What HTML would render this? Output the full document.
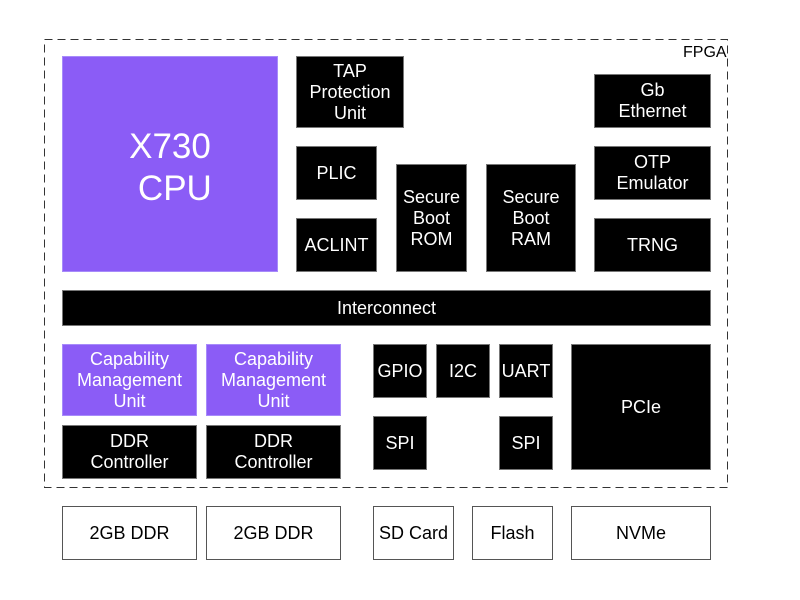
<!DOCTYPE html>
<html><head><style>
body{margin:0;width:800px;height:600px;background:#fff;position:relative;overflow:hidden;font-family:"Liberation Sans",sans-serif}
.b{position:absolute;background:#000;color:#fff;display:flex;align-items:center;justify-content:center;text-align:center;font-size:18px;line-height:21px;box-sizing:border-box;border:1px solid #777}
.p{background:#8b5cf6;border-color:#a78bfa}
.w{background:#fff;color:#000;border:1px solid #555}
</style></head><body>
<svg style="position:absolute;left:0;top:0" width="800" height="600"><rect x="44.5" y="39.5" width="683" height="448" fill="none" stroke="#333" stroke-width="1" stroke-dasharray="8,5"/></svg>
<div style="position:absolute;left:683px;top:44px;font-size:16px">FPGA</div>
<div class="b p" style="left:62px;top:56px;width:216px;height:216px;font-size:35px;line-height:42px;padding-top:8px">X730<br>&nbsp;CPU</div>
<div class="b" style="left:296px;top:56px;width:108px;height:72px">TAP<br>Protection<br>Unit</div>
<div class="b" style="left:296px;top:146px;width:81px;height:54px">PLIC</div>
<div class="b" style="left:296px;top:218px;width:81px;height:54px">ACLINT</div>
<div class="b" style="left:396px;top:164px;width:71px;height:108px">Secure<br>Boot<br>ROM</div>
<div class="b" style="left:486px;top:164px;width:90px;height:108px">Secure<br>Boot<br>RAM</div>
<div class="b" style="left:594px;top:74px;width:117px;height:54px">Gb<br>Ethernet</div>
<div class="b" style="left:594px;top:146px;width:117px;height:54px">OTP<br>Emulator</div>
<div class="b" style="left:594px;top:218px;width:117px;height:54px">TRNG</div>
<div class="b" style="left:62px;top:290px;width:649px;height:36px">Interconnect</div>
<div class="b p" style="left:62px;top:344px;width:135px;height:72px">Capability<br>Management<br>Unit</div>
<div class="b p" style="left:206px;top:344px;width:135px;height:72px">Capability<br>Management<br>Unit</div>
<div class="b" style="left:62px;top:425px;width:135px;height:54px">DDR<br>Controller</div>
<div class="b" style="left:206px;top:425px;width:135px;height:54px">DDR<br>Controller</div>
<div class="b" style="left:373px;top:344px;width:54px;height:54px">GPIO</div>
<div class="b" style="left:436px;top:344px;width:54px;height:54px">I2C</div>
<div class="b" style="left:499px;top:344px;width:54px;height:54px">UART</div>
<div class="b" style="left:373px;top:416px;width:54px;height:54px">SPI</div>
<div class="b" style="left:499px;top:416px;width:54px;height:54px">SPI</div>
<div class="b" style="left:571px;top:344px;width:140px;height:126px">PCIe</div>
<div class="b w" style="left:62px;top:506px;width:135px;height:54px">2GB DDR</div>
<div class="b w" style="left:206px;top:506px;width:135px;height:54px">2GB DDR</div>
<div class="b w" style="left:373px;top:506px;width:81px;height:54px">SD Card</div>
<div class="b w" style="left:472px;top:506px;width:81px;height:54px">Flash</div>
<div class="b w" style="left:571px;top:506px;width:140px;height:54px">NVMe</div>
</body></html>
